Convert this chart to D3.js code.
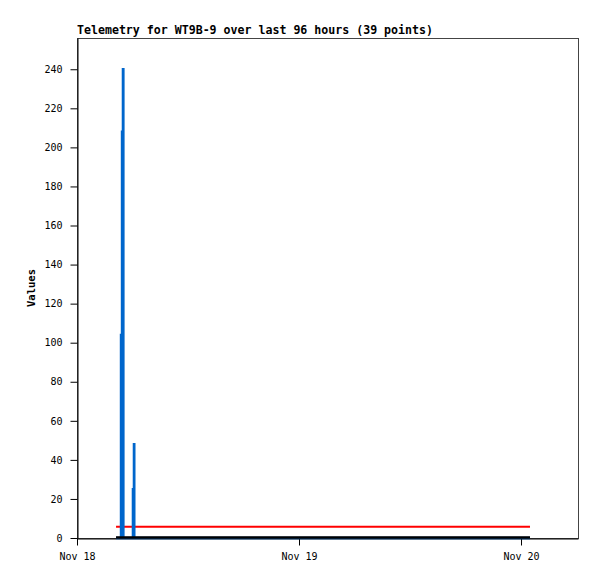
<!DOCTYPE html>
<html>
<head>
<meta charset="utf-8">
<script src="https://cdn.jsdelivr.net/npm/d3@7"></script>
<style>
  html, body { margin: 0; padding: 0; background: #fff; }
  svg { display: block; }
</style>
</head>
<body>
<script>
// ---- data ----
const titleText = "Telemetry for WT9B-9 over last 96 hours (39 points)";
const yLabel = "Values";
const startDate = "2023-11-18T00:00:00Z";
const domainEndHours = 54.16;
// hours since Nov 18 00:00 (UTC) for each of 39 samples
const hours = [4.22, 4.72, 4.76, 4.87, 4.97, 5.01, 6.02, 6.05, 6.16, 6.19,
  7.6, 9.1, 10.6, 12.1, 13.6, 15.1, 16.6, 18.1, 19.6, 21.1, 22.6, 24.1, 25.6,
  27.1, 28.6, 30.1, 31.6, 33.1, 34.6, 36.1, 37.6, 39.1, 40.6, 42.1, 43.6,
  45.1, 46.6, 48.1, 48.97];
const values = [0, 0, 104, 208, 240, 0, 0, 25, 48, 0,
  0, 0, 0, 0, 0, 0, 0, 0, 0, 0, 0, 0, 0,
  0, 0, 0, 0, 0, 0, 0, 0, 0, 0, 0, 0,
  0, 0, 0, 0];
const threshold = 5.8;
const yTicks = [0, 20, 40, 60, 80, 100, 120, 140, 160, 180, 200, 220, 240];
const yMax = 256;
const xTickDays = [0, 1, 2];

// ---- layout ----
const W = 597, H = 579;
const L = 77, R = 578, T = 38, B = 538;
const t0 = new Date(startDate).getTime();
const toDate = h => new Date(t0 + h * 3600e3);
const data = hours.map((h, i) => ({ t: toDate(h), v: values[i] }));

const svg = d3.select("body").append("svg").attr("width", W).attr("height", H);

const x = d3.scaleUtc().domain([toDate(0), toDate(domainEndHours)]).range([L, R]);
const y = d3.scaleLinear().domain([0, yMax]).range([B, T]);

const mono = "'DejaVu Sans Mono', 'Liberation Mono', monospace";

// frame
svg.append("rect").attr("x", L + 0.5).attr("y", T + 0.5)
  .attr("width", R - L).attr("height", B - T)
  .attr("fill", "none").attr("stroke", "#444").attr("stroke-width", 1);

// y axis
const yAxis = svg.append("g").attr("transform", `translate(${L + 0.5},0)`)
  .call(d3.axisLeft(y).tickValues(yTicks).tickSize(7).tickPadding(8).tickSizeOuter(0));
yAxis.select(".domain").attr("stroke", "#000");
yAxis.selectAll(".tick line").attr("stroke", "#000");
yAxis.selectAll("text").attr("font-family", mono).attr("font-size", 10).attr("fill", "#000");

// x axis
const xAxis = svg.append("g").attr("transform", `translate(0,${B + 0.5})`)
  .call(d3.axisBottom(x).tickValues(xTickDays.map(d => toDate(d * 24)))
    .tickFormat(d3.utcFormat("%b %d")).tickSize(7).tickPadding(7).tickSizeOuter(0));
xAxis.select(".domain").attr("stroke", "#000");
xAxis.selectAll(".tick line").attr("stroke", "#000");
xAxis.selectAll("text").attr("font-family", mono).attr("font-size", 10).attr("fill", "#000");

// threshold line over data extent
const ext = d3.extent(data, d => d.t);
svg.append("line")
  .attr("x1", x(ext[0])).attr("x2", x(ext[1]))
  .attr("y1", y(threshold)).attr("y2", y(threshold))
  .attr("stroke", "#ff0000").attr("stroke-width", 2);

// series line (stepped)
svg.append("path").datum(data)
  .attr("d", d3.line().curve(d3.curveStepAfter).x(d => x(d.t)).y(d => y(d.v)))
  .attr("fill", "none").attr("stroke", "#0066cc").attr("stroke-width", 2.5)
  .attr("stroke-linejoin", "miter").attr("stroke-linecap", "butt");

// zero baseline over data extent
svg.append("line")
  .attr("x1", x(ext[0])).attr("x2", x(ext[1]))
  .attr("y1", y(0) - 0.5).attr("y2", y(0) - 0.5)
  .attr("stroke", "#000").attr("stroke-width", 2.5);

// title
svg.append("text").attr("x", L).attr("y", 34)
  .attr("font-family", mono).attr("font-weight", "bold").attr("font-size", 11.6)
  .attr("fill", "#000").text(titleText);

// y label
svg.append("text")
  .attr("transform", `translate(35,${(T + B) / 2}) rotate(-90)`)
  .attr("text-anchor", "middle")
  .attr("font-family", mono).attr("font-weight", "bold").attr("font-size", 10.5)
  .attr("fill", "#000").text(yLabel);
</script>
</body>
</html>
